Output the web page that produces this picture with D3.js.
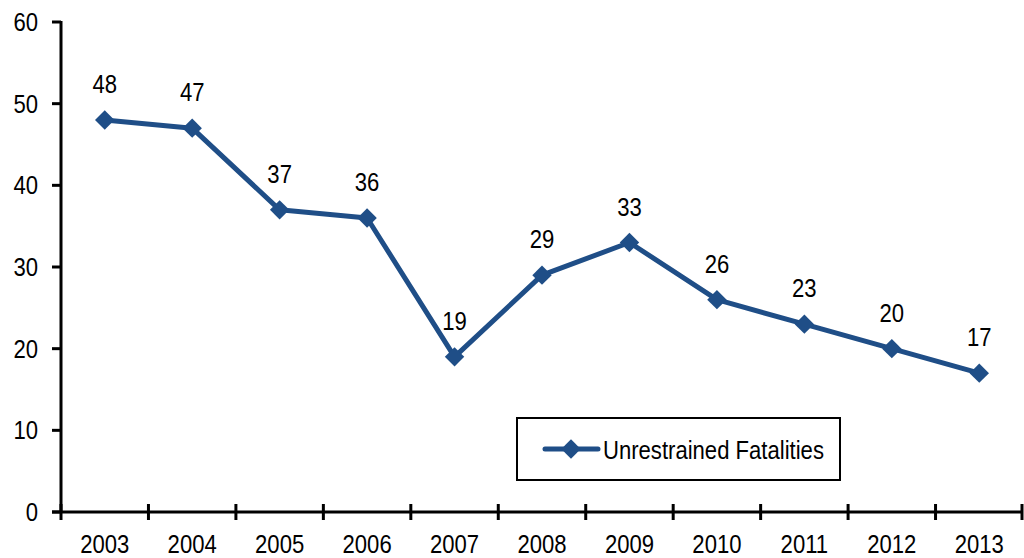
<!DOCTYPE html>
<html>
<head>
<meta charset="utf-8">
<script src="https://cdn.jsdelivr.net/npm/d3@7"></script>
<style>
body{margin:0;background:#fff;}
svg{display:block;}
text{font-family:"Liberation Sans",Arial,sans-serif;fill:#000;font-size:26px;}
</style>
</head>
<body>
<svg width="1024" height="558"></svg>
<script>
var years = ["2003","2004","2005","2006","2007","2008","2009","2010","2011","2012","2013"];
var fatalities = [48,47,37,36,19,29,33,26,23,20,17];
var yTicks = [0,10,20,30,40,50,60];
var seriesName = "Unrestrained Fatalities";

var width = 1024, height = 558;
var marge = {top:22,bottom:46,left:61,right:1};
var lineColor = "#1f4e87";
var sx = 0.85; // 窄体字：水平压缩

var svg = d3.select("svg");
var g = svg.append("g");

var x = d3.scaleBand().domain(years).range([marge.left, width - marge.right]);
var y = d3.scaleLinear().domain([0,60]).range([height - marge.bottom, marge.top]);

function narrowText(sel, fx, fy){
  sel.attr("x",0).attr("y",0)
     .attr("transform",function(d,i){return "translate("+fx(d,i)+","+fy(d,i)+") scale("+sx+",1)";});
}

// y轴
g.append("line").attr("x1",marge.left).attr("x2",marge.left).attr("y1",marge.top-1).attr("y2",y(0))
  .attr("stroke","#000").attr("stroke-width",3);
g.selectAll(".yt").data(yTicks).enter().append("line")
  .attr("x1",marge.left-9).attr("x2",marge.left)
  .attr("y1",function(d){return y(d);}).attr("y2",function(d){return y(d);})
  .attr("stroke","#000").attr("stroke-width",3);
g.selectAll(".yl").data(yTicks).enter().append("text")
  .attr("text-anchor","end")
  .text(function(d){return d;})
  .call(narrowText,function(){return 38;},function(d){return y(d)+9;});

// x轴
var ticksX = years.map(function(d){return x(d);}).concat([width - marge.right - 1]);
g.append("line").attr("x1",marge.left-9).attr("x2",width-marge.right).attr("y1",y(0)).attr("y2",y(0))
  .attr("stroke","#000").attr("stroke-width",3);
g.selectAll(".xt").data(ticksX).enter().append("line")
  .attr("x1",function(d){return d;}).attr("x2",function(d){return d;})
  .attr("y1",y(0)-8).attr("y2",y(0)+8)
  .attr("stroke","#000").attr("stroke-width",3);
g.selectAll(".xl").data(years).enter().append("text")
  .attr("text-anchor","middle")
  .text(function(d){return d;})
  .call(narrowText,function(d){return x(d)+x.bandwidth()/2;},function(){return y(0)+41;});

// 折线
var cx = function(d,i){return x(years[i])+x.bandwidth()/2;};
var line = d3.line().x(cx).y(function(d){return y(d);});
g.append("path").datum(fatalities).attr("d",line)
  .attr("fill","none").attr("stroke",lineColor).attr("stroke-width",5).attr("stroke-linejoin","round");

var diamond = d3.symbol().type(d3.symbolDiamond2).size(240);
g.selectAll(".pt").data(fatalities).enter().append("path")
  .attr("d",diamond)
  .attr("transform",function(d,i){return "translate("+cx(d,i)+","+y(d)+")";})
  .attr("fill",lineColor);

// 数据标签
g.selectAll(".lbl").data(fatalities).enter().append("text")
  .attr("text-anchor","middle")
  .text(function(d){return d;})
  .call(narrowText,cx,function(d){return y(d)-27;});

// 图例
var lg = g.append("g");
lg.append("rect").attr("x",517).attr("y",418).attr("width",323).attr("height",62)
  .attr("fill","#fff").attr("stroke","#000").attr("stroke-width",2);
lg.append("line").attr("x1",545).attr("x2",598).attr("y1",449).attr("y2",449)
  .attr("stroke",lineColor).attr("stroke-width",5).attr("stroke-linecap","round");
lg.append("path").attr("d",diamond).attr("transform","translate(571,449)").attr("fill",lineColor);
lg.append("text").datum(seriesName).text(seriesName)
  .call(narrowText,function(){return 603;},function(){return 459;});
</script>
</body>
</html>
